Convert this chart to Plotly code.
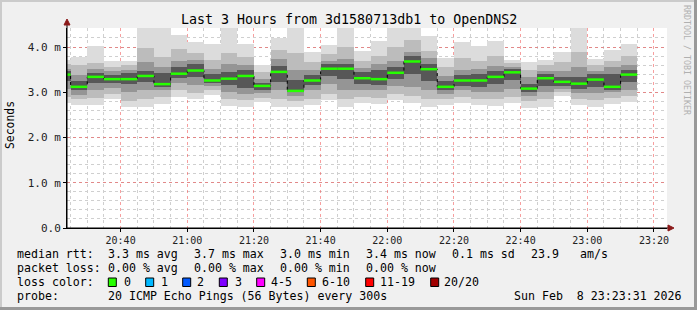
import plotly.graph_objects as go
import pandas as pd

# ---------------- data (values in ms) ----------------
bar_end = pd.date_range("2026-02-08 20:25", periods=35, freq="5min")

median = [3.39, 3.12, 3.34, 3.29, 3.29, 3.36, 3.18, 3.41, 3.48, 3.26,
          3.30, 3.36, 3.14, 3.45, 3.03, 3.26, 3.52, 3.52, 3.31, 3.29,
          3.43, 3.68, 3.51, 3.12, 3.26, 3.26, 3.34, 3.44, 3.08, 3.31,
          3.23, 3.19, 3.28, 3.12, 3.39]
ping_min = [2.76, 2.71, 2.72, 2.85, 2.67, 2.68, 2.75, 2.90, 2.84, 2.94,
            2.70, 2.68, 2.79, 2.68, 2.68, 2.72, 2.83, 2.68, 2.76, 2.74,
            2.83, 2.76, 2.68, 2.72, 2.76, 2.72, 2.70, 2.76, 2.66, 2.68,
            2.92, 2.71, 2.68, 2.74, 2.78]
ping_max = [3.72, 3.78, 4.02, 3.68, 3.70, 4.41, 4.41, 4.27, 4.10, 4.07,
            4.41, 4.06, 3.60, 4.19, 4.41, 3.90, 4.04, 4.41, 3.91, 4.14,
            4.41, 4.41, 4.25, 3.75, 4.12, 4.03, 4.14, 3.72, 3.66, 3.72,
            3.90, 4.41, 3.74, 3.94, 4.07]
lo2 = [2.90, 2.84, 2.88, 2.96, 2.80, 2.84, 2.90, 3.04, 2.98, 3.04,
       2.86, 2.82, 2.88, 2.84, 2.80, 2.86, 2.96, 2.84, 2.90, 2.88,
       2.96, 2.92, 2.84, 2.84, 2.90, 2.86, 2.84, 2.90, 2.80, 2.84,
       3.00, 2.84, 2.82, 2.88, 2.92]
hi2 = [3.62, 3.60, 3.64, 3.56, 3.60, 3.98, 3.78, 3.96, 3.86, 3.72,
       3.86, 3.78, 3.44, 3.94, 3.86, 3.66, 3.84, 4.00, 3.70, 3.80,
       4.00, 4.16, 3.92, 3.56, 3.76, 3.70, 3.80, 3.64, 3.50, 3.60,
       3.66, 3.90, 3.60, 3.70, 3.80]
lo3 = [3.08, 2.95, 3.05, 3.10, 3.00, 3.04, 3.04, 3.20, 3.16, 3.14,
       3.00, 2.96, 2.98, 3.04, 2.92, 3.04, 3.18, 3.04, 3.06, 3.04,
       3.14, 3.12, 3.04, 2.96, 3.04, 3.00, 3.00, 3.08, 2.92, 3.00,
       3.08, 2.98, 2.98, 3.00, 3.06]
hi3 = [3.52, 3.38, 3.52, 3.46, 3.50, 3.66, 3.56, 3.68, 3.72, 3.52,
       3.62, 3.60, 3.30, 3.74, 3.50, 3.50, 3.70, 3.74, 3.54, 3.62,
       3.70, 3.90, 3.76, 3.36, 3.50, 3.52, 3.58, 3.56, 3.34, 3.46,
       3.48, 3.56, 3.48, 3.56, 3.60]
lo4 = [3.25, 3.04, 3.20, 3.20, 3.18, 3.22, 3.12, 3.32, 3.34, 3.20,
       3.16, 3.10, 3.06, 3.22, 3.00, 3.16, 3.36, 3.30, 3.18, 3.16,
       3.30, 3.40, 3.24, 3.04, 3.14, 3.12, 3.18, 3.26, 3.00, 3.14,
       3.14, 3.08, 3.12, 3.06, 3.22]
hi4 = [3.46, 3.24, 3.42, 3.38, 3.42, 3.48, 3.42, 3.56, 3.62, 3.40,
       3.44, 3.50, 3.20, 3.58, 3.26, 3.38, 3.62, 3.62, 3.44, 3.50,
       3.56, 3.80, 3.62, 3.24, 3.38, 3.40, 3.46, 3.52, 3.18, 3.40,
       3.34, 3.34, 3.40, 3.40, 3.50]

y_tickvals = [0, 1, 2, 3, 4]
y_ticktext = ["0.0", "1.0 m", "2.0 m", "3.0 m", "4.0 m"]

loss_labels = ["0", "1", "2", "3", "4-5", "6-10", "11-19", "20/20"]
loss_colors = ["#26ff00", "#00b8ff", "#0059ff", "#7e00ff", "#ff00ff",
               "#ff5500", "#ff0000", "#a10000"]

title = "Last 3 Hours from 3d1580713db1 to OpenDNS2"
row_rtt = ["median rtt:", "3.3 ms avg", "3.7 ms max", "3.0 ms min",
           "3.4 ms now", "0.1 ms sd", "23.9", "am/s"]
row_loss = ["packet loss:", "0.00 % avg", "0.00 % max", "0.00 % min",
            "0.00 % now"]
probe_text = "20 ICMP Echo Pings (56 Bytes) every 300s"
stamp_text = "Sun Feb  8 23:23:31 2026"

# ---------------- layout geometry ----------------
W, H = 697, 310
L, R, T, B = 67, 667, 28, 228
FONT = "DejaVu Sans Mono"


def px(x):
    return (x - L) / (R - L)


def py(y):
    return (B - y) / (B - T)


fig = go.Figure()

# smoke layers
layers = [(ping_min, ping_max, "#dcdcdc"), (lo2, hi2, "#bcbcbc"),
          (lo3, hi3, "#959595"), (lo4, hi4, "#575757")]
for lo, hi, col in layers:
    fig.add_trace(go.Bar(
        x=bar_end, y=[h - l for l, h in zip(lo, hi)], base=lo,
        width=300000, offset=-300000,
        marker=dict(color=col, line=dict(width=0)),
        hoverinfo="skip", showlegend=False))

bar_start = bar_end - pd.Timedelta(minutes=5)

# thin black step connecting medians
fig.add_trace(go.Scatter(
    x=list(bar_start) + [bar_end[-1]], y=median + [median[-1]],
    mode="lines", line=dict(color="black", width=1, dash="dot", shape="hv"),
    hoverinfo="skip", showlegend=False))

# green median segments
gx, gy = [], []
for s, e, m in zip(bar_start, bar_end, median):
    gx += [s, e, None]
    gy += [m, m, None]
fig.add_trace(go.Scatter(x=gx, y=gy, mode="lines",
                         line=dict(color="#26ff00", width=2.5),
                         hoverinfo="skip", showlegend=False))

fig.update_layout(
    width=W, height=H,
    margin=dict(l=L, r=W - R, t=T, b=H - B),
    paper_bgcolor="#f0f0f0", plot_bgcolor="white",
    barmode="overlay", bargap=0, showlegend=False,
    font=dict(family=FONT, size=11, color="black"),
)

fig.update_xaxes(
    type="date",
    range=["2026-02-08 20:23:55", "2026-02-08 23:23:55"],
    tick0="2026-02-08 20:00", dtick=1200000, tickformat="%H:%M",
    showgrid=True, gridcolor="rgba(240,80,80,0.55)", griddash="dot", gridwidth=1,
    minor=dict(tick0="2026-02-08 20:00", dtick=300000, showgrid=True,
               gridcolor="#cfcfcf", griddash="dot", gridwidth=1),
    showline=True, linecolor="black", linewidth=1,
    ticks="outside", ticklen=3, tickcolor="black",
    tickfont=dict(family=FONT, size=10, color="#222"),
    zeroline=False, fixedrange=True,
)
fig.update_yaxes(
    range=[0, 4.42], tickmode="array", tickvals=y_tickvals, ticktext=y_ticktext,
    showgrid=True, gridcolor="rgba(240,80,80,0.55)", griddash="dot", gridwidth=1,
    minor=dict(tickmode="linear", tick0=0, dtick=0.2, showgrid=True,
               gridcolor="#cfcfcf", griddash="dot", gridwidth=1),
    showline=True, linecolor="black", linewidth=1,
    ticks="outside", ticklen=3, tickcolor="black",
    tickfont=dict(family=FONT, size=11, color="#222"),
    zeroline=False, fixedrange=True,
)

shapes = []
# frame shading
shapes += [
    dict(type="rect", xref="paper", yref="paper", x0=px(0), x1=px(2), y0=py(H), y1=py(0),
         fillcolor="#cbcbcb", line=dict(width=0), layer="below"),
    dict(type="rect", xref="paper", yref="paper", x0=px(0), x1=px(W), y0=py(2), y1=py(0),
         fillcolor="#cbcbcb", line=dict(width=0), layer="below"),
    dict(type="rect", xref="paper", yref="paper", x0=px(W - 3), x1=px(W), y0=py(H), y1=py(0),
         fillcolor="#999999", line=dict(width=0), layer="below"),
    dict(type="rect", xref="paper", yref="paper", x0=px(0), x1=px(W), y0=py(H), y1=py(H - 3),
         fillcolor="#999999", line=dict(width=0), layer="below"),
]
# axis extensions and arrow heads
shapes += [
    dict(type="line", xref="paper", yref="paper", x0=px(L), x1=px(L), y0=py(B), y1=py(22),
         line=dict(color="black", width=1)),
    dict(type="line", xref="paper", yref="paper", x0=px(L), x1=px(670), y0=py(B), y1=py(B),
         line=dict(color="black", width=1)),
    dict(type="path", xref="paper", yref="paper",
         path=f"M {px(64)} {py(25)} L {px(70)} {py(25)} L {px(67)} {py(19)} Z",
         fillcolor="#8b1a1a", line=dict(color="#8b1a1a", width=1)),
    dict(type="path", xref="paper", yref="paper",
         path=f"M {px(668)} {py(225)} L {px(668)} {py(231)} L {px(674)} {py(228)} Z",
         fillcolor="#8b1a1a", line=dict(color="#8b1a1a", width=1)),
]
# loss colour boxes
box_x = [108.3, 145.7, 182.7, 219.3, 256.7, 307.3, 365.7, 430.7]
lab_x = [123.3, 160.0, 196.7, 234.3, 270.7, 321.7, 379.0, 444.0]
for bx, col in zip(box_x, loss_colors):
    shapes.append(dict(type="rect", xref="paper", yref="paper",
                       x0=px(bx), x1=px(bx + 8), y0=py(286.5), y1=py(278),
                       fillcolor=col, line=dict(color="black", width=1)))
fig.update_layout(shapes=shapes)

ann = []


def txt(x, y, s, size=11.6, color="black", anchor="left", angle=0):
    ann.append(dict(xref="paper", yref="paper", x=px(x), y=py(y), text=s,
                    showarrow=False, xanchor=anchor, yanchor="middle",
                    textangle=angle, borderpad=0,
                    font=dict(family=FONT, size=size, color=color)))


txt(348.5, 19, title, size=13.3, anchor="center")
txt(10, 125, "Seconds", size=11.4, anchor="center", angle=-90)
txt(687, 60, "RRDTOOL / TOBI OETIKER", size=8.3, color="#b0b0b0", anchor="center", angle=90)

rtt_x = [15.5, 106.5, 192.5, 278.5, 364.5, 451, 529.5, 578.5]
for x, s in zip(rtt_x, row_rtt):
    txt(x, 254.3, s)
loss_x = [15.5, 106.5, 192.5, 278.5, 364.5]
for x, s in zip(loss_x, row_loss):
    txt(x, 268.3, s)
txt(15.5, 282.3, "loss color:")
for x, s in zip(lab_x, loss_labels):
    txt(x - 0.5, 282.3, s)
txt(15.5, 296.2, "probe:")
txt(106.5, 296.2, probe_text)
txt(512.5, 296.2, stamp_text)

fig.update_layout(annotations=ann)

fig.write_html("out.html")
